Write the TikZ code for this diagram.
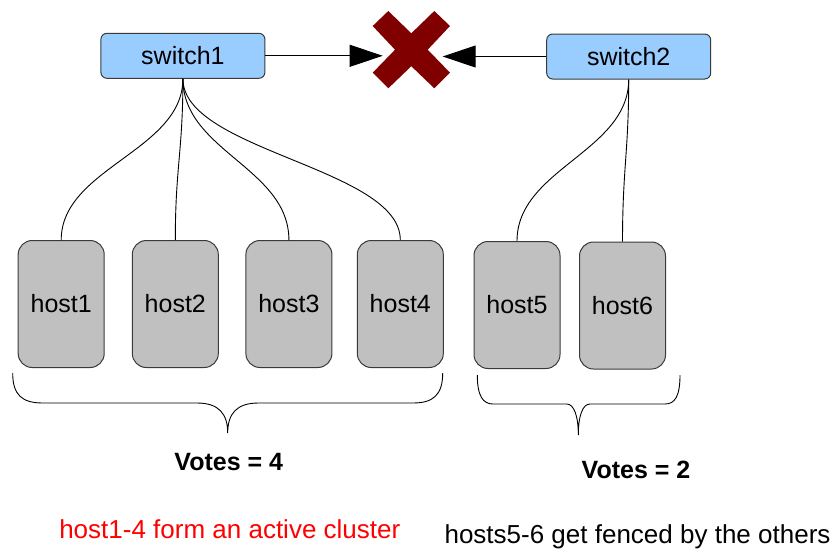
\documentclass[tikz,border=0pt]{standalone}
\usepackage{fontspec}
\setmainfont{Liberation Sans}
\usetikzlibrary{arrows.meta}

\definecolor{switchblue}{HTML}{99CCFF}
\definecolor{hostgray}{HTML}{C0C0C0}
\definecolor{edgegray}{HTML}{3A3A3A}
\definecolor{crossred}{HTML}{800000}
\definecolor{notered}{HTML}{FF0000}

\begin{document}
\begin{tikzpicture}[x=1pt,y=-1pt,
  switchbox/.style={draw=edgegray, line width=1pt, fill=switchblue, rounded corners=6pt,
    minimum width=164pt, minimum height=45pt, inner sep=0pt,
    font=\fontsize{25pt}{30pt}\selectfont},
  hostbox/.style={draw=edgegray, line width=1pt, fill=hostgray, rounded corners=14pt,
    minimum width=86pt, minimum height=127pt, inner sep=0pt,
    font=\fontsize{25pt}{30pt}\selectfont},
  link/.style={line width=1pt, black},
  cable/.style={line width=0.9pt, black},
  bracket/.style={line width=0.9pt, black},
  votes/.style={anchor=base, inner sep=0pt, font=\fontsize{25pt}{30pt}\selectfont\bfseries},
  caption/.style={anchor=base, inner sep=0pt, font=\fontsize{26pt}{31pt}\selectfont},
  tip/.style={-{Triangle[length=33pt,width=22pt]}}
]
\useasboundingbox (0,0) rectangle (834,549);

% switches
\node[switchbox] (s1) at (182.9,55.8) {switch1};
\node[switchbox] (s2) at (628.7,56.5) {switch2};

% hosts
\node[hostbox] (h1) at (61.2,304) {host1};
\node[hostbox] (h2) at (175.3,304) {host2};
\node[hostbox] (h3) at (288.9,304) {host3};
\node[hostbox] (h4) at (400.3,304) {host4};
\node[hostbox] (h5) at (517,305) {host5};
\node[hostbox] (h6) at (622.5,305.5) {host6};

% broken link between the switches
\fill[crossred] (388.3,11) -- (411.3,33.3) -- (434.3,11) -- (450,26) -- (427.7,49.7)
  -- (450,72.7) -- (434.3,88.3) -- (411.3,66.2) -- (388.3,88.3) -- (372.7,72.7)
  -- (395,49.7) -- (372.7,26) -- cycle;
\coordinate (cutL) at (382.7,55.8);
\coordinate (cutR) at (442.7,56.5);
\draw[link,tip] (s1.east) -- (cutL);
\draw[link,tip] (s2.west) -- (cutR);

% cables from the switches to the hosts
\foreach \h in {h1,h2,h3,h4}
  \draw[cable] (s1.south) .. controls +(0,72) and +(0,-72) .. (\h.north);
\foreach \h in {h5,h6}
  \draw[cable] (s2.south) .. controls +(0,72) and +(0,-72) .. (\h.north);

% braces under the two groups
\draw[bracket] (12.7,373) .. controls (12.7,395) and (22,403) .. (43,403)
  -- (197,403) .. controls (219,403) and (227.7,414) .. (227.7,433)
  .. controls (227.7,414) and (236.4,403) .. (258.4,403)
  -- (413,403) .. controls (433,403) and (442.7,395) .. (442.7,373);
\draw[bracket] (477.3,375) .. controls (477.3,396) and (483,404) .. (493,404)
  -- (566.7,404) .. controls (574,404) and (578.3,416) .. (578.3,435)
  .. controls (578.3,416) and (582.6,404) .. (590,404)
  -- (665,404) .. controls (675,404) and (680,396) .. (680,375);

% labels
\node[votes] (v1) at (228.8,470) {Votes = 4};
\node[votes] (v2) at (636,478) {Votes = 2};
\node[caption, text=notered] (c1) at (229.8,538) {host1-4 form an active cluster};
\node[caption] (c2) at (637.5,543) {hosts5-6 get fenced by the others};
\end{tikzpicture}
\end{document}
